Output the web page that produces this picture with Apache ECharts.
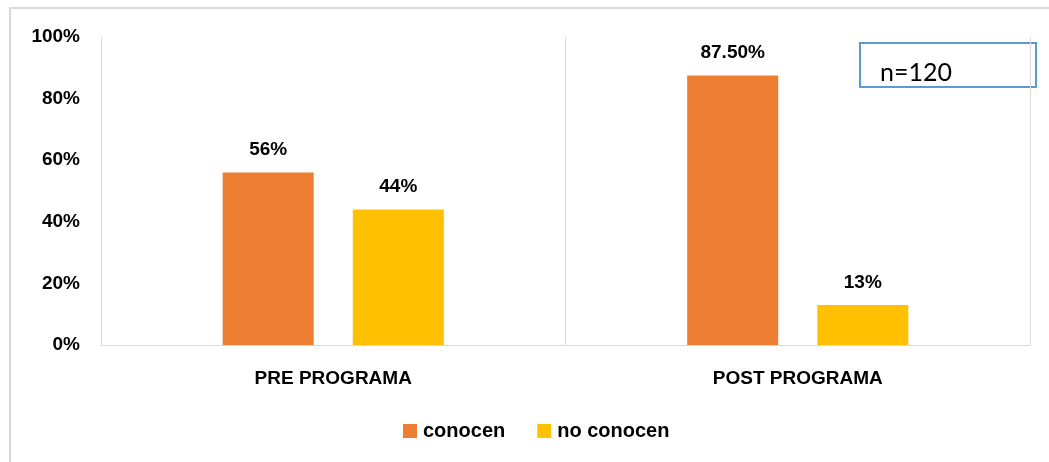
<!DOCTYPE html>
<html>
<head>
<meta charset="utf-8">
<title>Conocimiento pre y post programa</title>
<script src="https://cdn.jsdelivr.net/npm/echarts@6/dist/echarts.min.js"></script>
<style>
  html, body { margin: 0; padding: 0; background: #ffffff; }
  #chart { width: 1049px; height: 462px; }
</style>
</head>
<body>
<div id="chart"></div>
<script>
// Categories and series values (percent)
const categories = ['PRE PROGRAMA', 'POST PROGRAMA'];
const conocen = [56, 87.5];
const noConocen = [44, 13];
const yTicks = [0, 20, 40, 60, 80, 100];
const sampleNote = 'n=120';

const BOLD_FONT = '"Liberation Sans", Arial, sans-serif';
const NOTE_FONT = 'Lato, "Open Sans", sans-serif';
const GRAY = '#d9d9d9';

function pctLabel(v) {
  return (Number.isInteger(v) ? String(v) : v.toFixed(2)) + '%';
}

const labelStyle = {
  show: true,
  position: 'top',
  distance: 13,
  color: '#000',
  fontFamily: BOLD_FONT,
  fontWeight: 'bold',
  fontSize: 19,
  lineHeight: 19,
  formatter: p => pctLabel(p.value)
};

const chart = echarts.init(document.getElementById('chart'), null, { renderer: 'canvas' });

chart.setOption({
  backgroundColor: '#ffffff',
  animation: false,
  grid: { left: 101, right: 19, top: 37, bottom: 117, containLabel: false },
  legend: {
    data: ['conocen', 'no conocen'],
    left: 403,
    top: 421,
    padding: 0,
    itemWidth: 14,
    itemHeight: 14,
    itemGap: 32,
    icon: 'rect',
    textStyle: { color: '#000', fontFamily: BOLD_FONT, fontWeight: 'bold', fontSize: 20, padding: [0, 0, 0, 1] }
  },
  xAxis: {
    type: 'category',
    data: categories,
    axisLine: { show: true, lineStyle: { color: GRAY, width: 1 } },
    axisTick: { show: false },
    splitLine: { show: true, lineStyle: { color: GRAY, width: 1 } },
    axisLabel: {
      color: '#000', fontFamily: BOLD_FONT, fontWeight: 'bold', fontSize: 19, margin: 24
    }
  },
  yAxis: {
    type: 'value',
    min: 0,
    max: 100,
    interval: 20,
    axisLine: { show: false },
    axisTick: { show: false },
    splitLine: { show: false },
    axisLabel: {
      color: '#000', fontFamily: BOLD_FONT, fontWeight: 'bold', fontSize: 19, margin: 21,
      lineHeight: 19, padding: [4, 0, 0, 0],
      formatter: v => (yTicks.includes(v) ? v + '%' : '')
    }
  },
  series: [
    {
      name: 'conocen',
      type: 'bar',
      data: conocen,
      barWidth: 91,
      barGap: '43%',
      itemStyle: { color: '#ed7d31' },
      label: labelStyle
    },
    {
      name: 'no conocen',
      type: 'bar',
      data: noConocen,
      barWidth: 91,
      itemStyle: { color: '#ffc000' },
      label: labelStyle
    }
  ],
  graphic: [
    {
      type: 'rect',
      silent: true,
      shape: { x: 10, y: 8, width: 1100, height: 500 },
      style: { fill: null, stroke: GRAY, lineWidth: 2 }
    },
    {
      type: 'rect',
      silent: true,
      shape: { x: 860, y: 43, width: 176, height: 44 },
      style: { fill: '#ffffff', stroke: '#5b9bd5', lineWidth: 2 }
    },
    {
      type: 'text',
      silent: true,
      x: 880,
      y: 73,
      style: {
        text: sampleNote,
        fill: '#000',
        font: 'normal 25px ' + NOTE_FONT,
        textVerticalAlign: 'middle',
        verticalAlign: 'middle'
      }
    }
  ]
});
</script>
</body>
</html>
